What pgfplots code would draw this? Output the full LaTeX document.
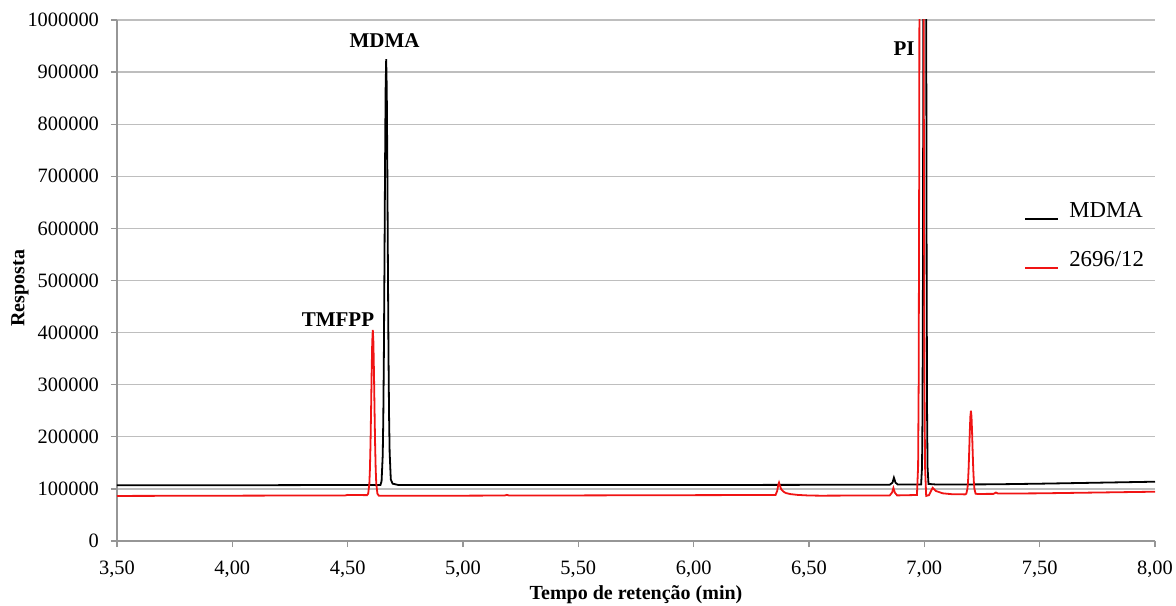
\documentclass[border=0pt]{standalone}
\usepackage{pgfplots}
\pgfplotsset{compat=1.18}
\usepackage{fontspec}
\setmainfont{Liberation Serif}
\definecolor{gridgray}{RGB}{190,190,190}
\definecolor{axgray}{RGB}{150,150,150}
\definecolor{redl}{RGB}{240,20,20}
\begin{document}
\begin{tikzpicture}
\useasboundingbox (-58.5pt,-32pt) rectangle (529.5pt,270.5pt);
\begin{axis}[
  scale only axis, width=519pt, height=260.5pt,
  xmin=3.5, xmax=8, ymin=0, ymax=1000000,
  xtick={3.5,4,...,8}, ytick={0,100000,...,1000000},
  scaled y ticks=false, scaled x ticks=false,
  axis x line*=bottom, axis y line*=left,
  axis line style={axgray, line width=0.6pt, -},
  tick style={axgray, line width=0.6pt},
  tick align=outside, major tick length=3pt,
  ymajorgrids, grid style={gridgray, line width=0.6pt},
  xticklabel style={/pgf/number format/.cd, fixed, fixed zerofill, precision=2, use comma, /tikz/.cd, yshift=-3.5pt},
  yticklabel style={/pgf/number format/.cd, fixed, 1000 sep={}, /tikz/.cd, xshift=-2.5pt},
  /pgf/number format/assume math mode=true,
  tick label style={font=\fontsize{10.2}{12}\selectfont, black},
  xlabel={\textbf{Tempo de retenção (min)}},
  ylabel={\textbf{Resposta}},
  xlabel style={at={(axis description cs:0.5,0)}, anchor=center, yshift=-27pt},
  ylabel style={at={(axis description cs:0,0.485)}, anchor=center, yshift=48.5pt},
  label style={font=\fontsize{10}{12}\selectfont},
  legend cell align=left,
  legend style={draw=none, fill=none, at={(0.868,0.585)}, anchor=west,
    font=\fontsize{11.4}{12}\selectfont, row sep=11.5pt},
  legend image code/.code={\draw[#1, line width=1pt] (0pt,-3.5pt) -- (16.5pt,-3.5pt); \path (19.5pt,0pt);},
]
\addplot[black, line width=0.9pt] coordinates {
(3.50,107000) (4.00,107000) (4.50,107500) (4.642,107500) (4.647,114700) (4.652,164500) (4.6545,235500) (4.657,358500) (4.6595,527500) (4.662,715500) (4.6645,867000) (4.667,925000)
(4.6695,867000) (4.672,715500) (4.6745,527500) (4.677,358500) (4.6795,240000) (4.682,170000) (4.687,118000) (4.695,110000) (4.72,107500)
(5.00,107500) (5.50,107500) (6.00,107500) (6.50,107800) (6.85,108000) (6.862,112000) (6.868,121500) (6.875,112000) (6.885,108300)
(6.986,108300) (6.990,141600) (6.992,240000) (6.994,514300) (6.996,1082000) (7.002,3100000) (7.008,1082000) (7.010,514300) (7.012,240000) (7.014,141600) (7.018,109500)
(7.05,108500) (7.20,108600) (7.30,108800) (7.50,110000) (8.00,113800)
};
\addlegendentry{MDMA}
\addplot[redl, line width=0.9pt] coordinates {
(3.50,86500) (4.00,87000) (4.49,87500) (4.50,88500) (4.584,88000) (4.589,90800) (4.594,110200) (4.5965,137800) (4.599,185300) (4.6015,251000) (4.604,323800) (4.6065,382500) (4.609,405000)
(4.6115,382500) (4.614,323800) (4.6165,251000) (4.619,185300) (4.6215,137800) (4.624,110200) (4.629,90800) (4.635,87000)
(5.00,87000) (5.18,87300) (5.19,88500) (5.20,87300) (5.50,87500) (6.00,88000) (6.355,88300) (6.362,96000) (6.367,108000) (6.370,112000) (6.374,106000) (6.38,99000) (6.39,94500) (6.40,92000) (6.42,90000) (6.45,88500) (6.50,87300) (6.55,87000)
(6.85,87500) (6.860,93000) (6.866,101700) (6.872,93000) (6.882,87500)
(6.968,88300) (6.973,143500) (6.9755,307700) (6.978,765000) (6.9805,1700000) (6.988,5000000) (6.9955,1700000) (6.998,765000) (7.0005,307700) (7.003,143500) (7.008,86500)
(7.02,88000) (7.030,97000) (7.036,102000) (7.05,96000) (7.08,91500) (7.12,89800)
(7.177,89500) (7.182,90900) (7.187,100700) (7.1895,114700) (7.192,138800) (7.1945,172000) (7.197,208900) (7.1995,238600) (7.202,250000)
(7.2045,238600) (7.207,208900) (7.2095,172000) (7.212,138800) (7.2145,114700) (7.217,100700) (7.222,90900) (7.23,90300)
(7.30,90500) (7.31,93000) (7.32,91000) (7.50,91500) (8.00,94600)
};
\addlegendentry{2696/12}
\node[font=\bfseries\fontsize{10.5}{12}\selectfont] at (axis cs:4.66,960000) {MDMA};
\node[font=\bfseries\fontsize{10.5}{12}\selectfont] at (axis cs:4.458,424000) {TMFPP};
\node[font=\bfseries\fontsize{10.5}{12}\selectfont] at (axis cs:6.912,946000) {PI};
\end{axis}
\end{tikzpicture}
\end{document}
